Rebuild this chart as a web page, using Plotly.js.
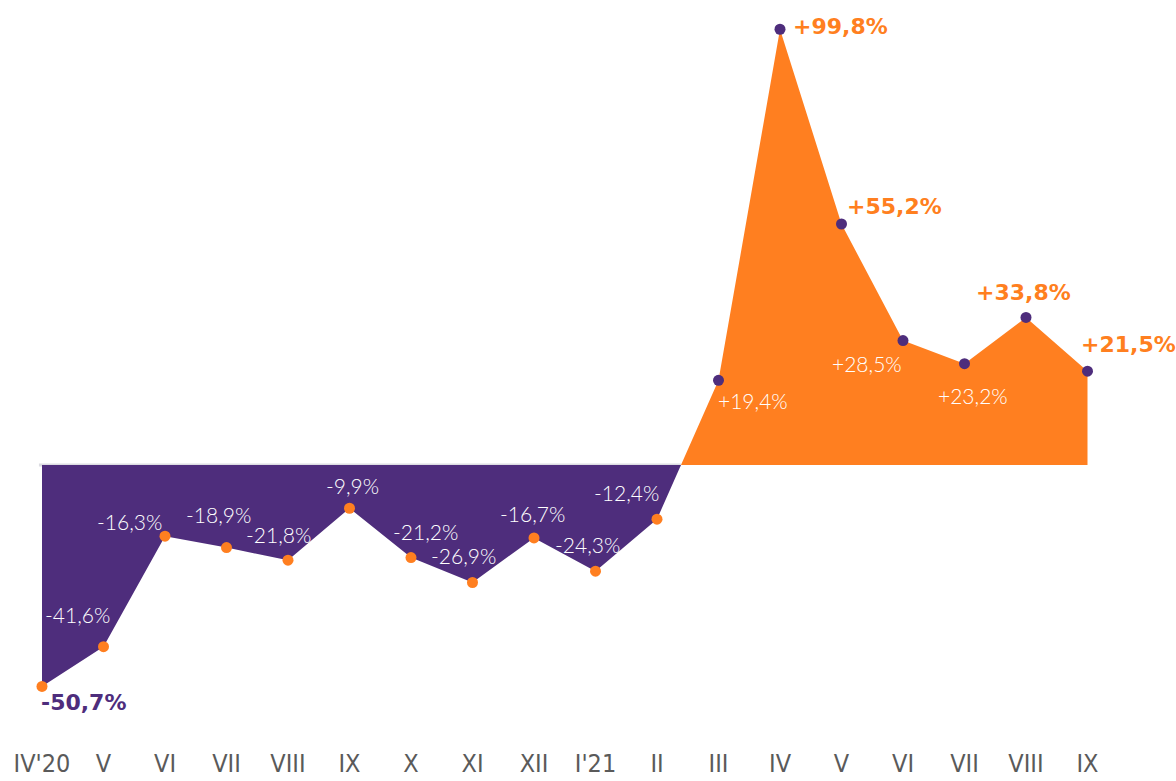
<!DOCTYPE html>
<html>
<head>
<meta charset="utf-8">
<script src="https://cdn.plot.ly/plotly-3.0.1.min.js"></script>
<style>
  html, body { margin: 0; padding: 0; background: #ffffff; }
  #chart { width: 1176px; height: 781px; }
</style>
</head>
<body>
<div id="chart"></div>
<script>
// ---- data ----
const months = ["IV'20", "V", "VI", "VII", "VIII", "IX", "X", "XI", "XII", "I'21", "II", "III", "IV", "V", "VI", "VII", "VIII", "IX"];
const changes = [-50.7, -41.6, -16.3, -18.9, -21.8, -9.9, -21.2, -26.9, -16.7, -24.3, -12.4, 19.4, 99.8, 55.2, 28.5, 23.2, 33.8, 21.5];
const emphasized = [true, false, false, false, false, false, false, false, false, false, false, false, true, true, false, false, true, true];

// ---- styling / label placement (pixels relative to the point) ----
const PURPLE = '#4E2D7C';
const ORANGE = '#FF7F20';
const labelOffsets = [
  [41, -16], [-26, 32], [-36, 15], [-8, 33], [-10, 26], [3, 23], [14, 26], [-9, 27], [-2, 24],
  [-8, 27], [-31, 27], [34, -20], [60, 3], [53, 18], [-36, -23], [8, -32], [-3, 25], [41, 27]
];

const xIdx = months.map((_, i) => i);
const fmt = v => (v > 0 ? '+' : '') + v.toFixed(1).replace('.', ',') + '%';

// where the series crosses zero (derived from the data) – used for the light baseline
let crossX = xIdx[xIdx.length - 1];
for (let i = 0; i < changes.length - 1; i++) {
  if (changes[i] < 0 && changes[i + 1] >= 0) {
    crossX = xIdx[i] + (-changes[i]) / (changes[i + 1] - changes[i]);
    break;
  }
}

const trace = {
  type: 'scatter',
  mode: 'lines+markers',
  x: xIdx,
  y: changes,
  fill: 'tozeroy',
  fillgradient: {
    type: 'vertical',
    colorscale: [[0, PURPLE], [0.5, PURPLE], [0.5, ORANGE], [1, ORANGE]],
    start: -0.5,
    stop: 0.5
  },
  line: { width: 0, color: PURPLE },
  marker: { size: 11, color: changes.map(v => v < 0 ? ORANGE : PURPLE) },
  hoverinfo: 'skip',
  showlegend: false
};

const annotations = changes.map((v, i) => {
  const strong = emphasized[i];
  return {
    x: xIdx[i], y: v, xref: 'x', yref: 'y',
    text: fmt(v),
    showarrow: false,
    xshift: labelOffsets[i][0],
    yshift: labelOffsets[i][1],
    font: strong
      ? { family: 'DejaVu Sans, sans-serif', size: 22, weight: 700, color: v < 0 ? PURPLE : ORANGE }
      : { family: 'Lato, Inter, sans-serif', size: 21, weight: 300, color: '#ffffff' }
  };
});

const layout = {
  width: 1176,
  height: 781,
  margin: { l: 0, r: 0, t: 0, b: 40 },
  paper_bgcolor: '#ffffff',
  plot_bgcolor: '#ffffff',
  xaxis: {
    range: [-0.683, 18.439],
    tickmode: 'array',
    tickvals: xIdx,
    ticktext: months,
    showgrid: false,
    zeroline: false,
    showline: false,
    ticks: '',
    ticklabelstandoff: 5,
    tickfont: { family: '"Liberation Sans Narrow", "DejaVu Sans Condensed", sans-serif', size: 25, color: '#5a5a5a' },
    fixedrange: true
  },
  yaxis: {
    range: [-63.2, 106.5],
    showgrid: false,
    showticklabels: false,
    ticks: '',
    showline: false,
    zeroline: false,
    fixedrange: true
  },
  shapes: [{
    type: 'line', layer: 'below', xref: 'x', yref: 'y',
    x0: xIdx[0] - 0.05, x1: crossX, y0: 0, y1: 0,
    line: { color: '#dcdce2', width: 3 }
  }],
  annotations: annotations
};

Plotly.newPlot('chart', [trace], layout, { staticPlot: true, displayModeBar: false });
</script>
</body>
</html>
